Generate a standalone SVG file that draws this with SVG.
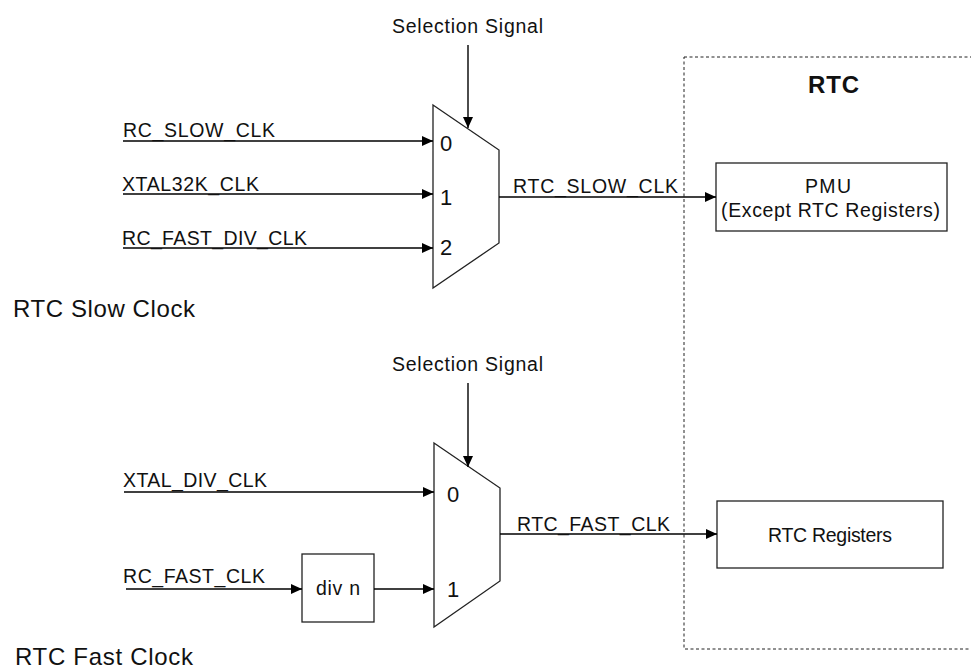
<svg xmlns="http://www.w3.org/2000/svg" width="971" height="671" viewBox="0 0 971 671">
<defs>
<marker id="ah" markerWidth="12" markerHeight="10" refX="11" refY="5" orient="auto" markerUnits="userSpaceOnUse">
<path d="M0,0 L11,5 L0,10 Z" fill="#000"/>
</marker>
<style>
.t{font-family:"Liberation Sans",Arial,Helvetica,sans-serif;font-size:19.5px;fill:#111}
.big{font-size:24px}
.dig{font-size:22px}
.b{font-weight:bold;font-size:24px}
.ln{stroke:#000;stroke-width:1.4;fill:none}
.box{stroke:#222;stroke-width:1.3;fill:#fff}
.dash{stroke:#222;stroke-width:1;fill:none;stroke-dasharray:3,2.5}
</style>
</defs>
<rect width="971" height="671" fill="#fff"/>
<g id="rtc-group">
<rect class="dash" x="684" y="57" width="300" height="592"/>
<text class="t b" x="808" y="93" textLength="51">RTC</text>
</g>
<g id="section-labels">
<text class="t big" x="13" y="317" textLength="182">RTC Slow Clock</text>
<text class="t big" x="15" y="665" textLength="178">RTC Fast Clock</text>
</g>
<g id="mux-slow">
<path class="box" d="M433,105 L499,150 L499,243 L433,288 Z"/>
<text class="t dig" x="440" y="151">0</text>
<text class="t dig" x="440" y="205">1</text>
<text class="t dig" x="440" y="255">2</text>
</g>
<g id="mux-fast">
<path class="box" d="M434,443 L500,488 L500,581 L434,627 Z"/>
<text class="t dig" x="447" y="502">0</text>
<text class="t dig" x="447" y="597">1</text>
</g>
<g id="div-n">
<rect class="box" x="302" y="554" width="72" height="68"/>
<text class="t" x="316" y="595" textLength="44">div n</text>
</g>
<g id="pmu">
<rect class="box" x="716" y="163" width="231" height="68"/>
<text class="t" x="805" y="193" textLength="46">PMU</text>
<text class="t" x="721" y="217" textLength="219">(Except RTC Registers)</text>
</g>
<g id="rtc-registers">
<rect class="box" x="717" y="501" width="226" height="67"/>
<text class="t" x="768" y="542" textLength="124">RTC Registers</text>
</g>
<g id="connectors">
<line class="ln" x1="468" y1="45" x2="468" y2="128" marker-end="url(#ah)"/>
<line class="ln" x1="123" y1="141" x2="433" y2="141" marker-end="url(#ah)"/>
<line class="ln" x1="123" y1="194" x2="433" y2="194" marker-end="url(#ah)"/>
<line class="ln" x1="123" y1="248" x2="433" y2="248" marker-end="url(#ah)"/>
<line class="ln" x1="499" y1="197" x2="716" y2="197" marker-end="url(#ah)"/>
<line class="ln" x1="468" y1="383" x2="468" y2="467" marker-end="url(#ah)"/>
<line class="ln" x1="124" y1="492" x2="434" y2="492" marker-end="url(#ah)"/>
<line class="ln" x1="126" y1="589" x2="302" y2="589" marker-end="url(#ah)"/>
<line class="ln" x1="374" y1="589" x2="434" y2="589" marker-end="url(#ah)"/>
<line class="ln" x1="500" y1="534" x2="717" y2="534" marker-end="url(#ah)"/>
</g>
<g id="labels">
<text class="t" x="392" y="33" textLength="151">Selection Signal</text>
<text class="t" x="392" y="371" textLength="151">Selection Signal</text>
<text class="t" x="123" y="137" textLength="152">RC_SLOW_CLK</text>
<text class="t" x="122" y="191" textLength="137">XTAL32K_CLK</text>
<text class="t" x="122" y="245" textLength="185">RC_FAST_DIV_CLK</text>
<text class="t" x="513" y="193" textLength="165">RTC_SLOW_CLK</text>
<text class="t" x="123" y="487" textLength="144">XTAL_DIV_CLK</text>
<text class="t" x="123" y="583" textLength="142">RC_FAST_CLK</text>
<text class="t" x="517" y="531" textLength="153">RTC_FAST_CLK</text>
</g>
</svg>
